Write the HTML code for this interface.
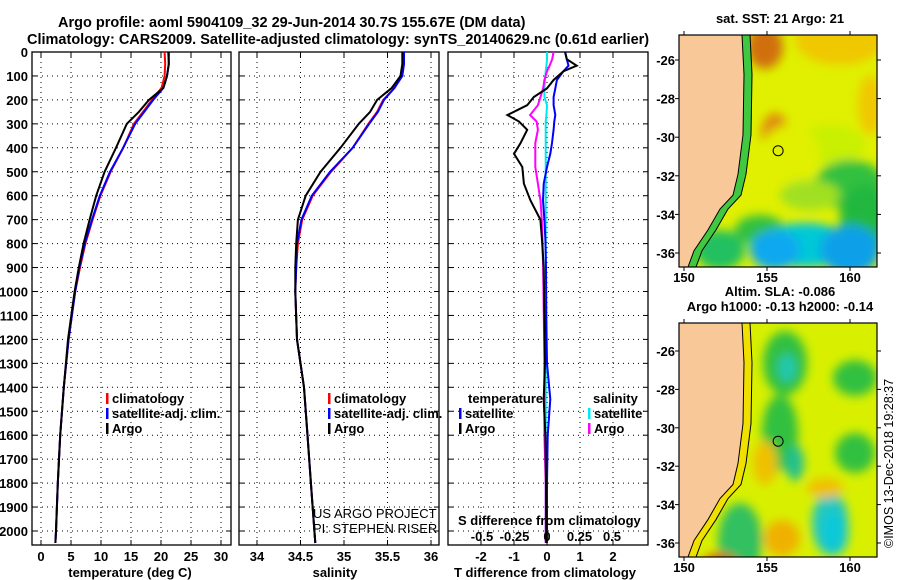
<!DOCTYPE html>
<html><head><meta charset="utf-8"><style>
html,body{margin:0;padding:0;background:#fff;}
svg{display:block;font-family:"Liberation Sans",sans-serif;}
.t{font-weight:bold;font-size:13px;}
</style></head><body>
<svg id="s" width="900" height="580" viewBox="0 0 900 580" xmlns="http://www.w3.org/2000/svg">
<text x="58" y="27" font-size="14.5" font-weight="bold">Argo profile: aoml 5904109_32 29-Jun-2014 30.7S 155.67E (DM data)</text>
<text x="27" y="44" font-size="14.5" font-weight="bold">Climatology: CARS2009. Satellite-adjusted climatology: synTS_20140629.nc (0.61d earlier)</text>
<g id="maps"></g>
<g id="plots"></g>
<text transform="translate(893,548) rotate(-90)" font-size="12.5">©IMOS 13-Dec-2018 19:28:37</text>
</svg>
<script>
// ---- data ----
const depth      = [0,50,100,150,200,250,300,400,500,600,700,800,900,1000,1200,1400,1600,1800,2000,2050];
const tempArgo   = [21.3,21.3,21.0,20.4,18.0,16.3,14.3,12.5,10.6,9.2,8.1,7.1,6.3,5.6,4.5,3.8,3.2,2.8,2.5,2.4];
const tempClim   = [20.6,20.7,20.6,20.1,18.5,17.0,15.5,13.7,11.6,9.9,8.6,7.4,6.5,5.7,4.6,3.8,3.2,2.8,2.5,2.4];
const tempSat    = [21.2,21.3,21.0,20.4,18.7,17.2,15.7,13.7,11.5,9.8,8.5,7.3,6.4,5.7,4.6,3.8,3.2,2.8,2.5,2.4];
const salArgo    = [35.67,35.67,35.65,35.55,35.38,35.30,35.17,34.96,34.73,34.56,34.47,34.45,34.44,34.44,34.46,34.54,34.58,34.62,34.66,34.67];
const salClim    = [35.68,35.68,35.66,35.58,35.45,35.38,35.28,35.10,34.85,34.64,34.52,34.47,34.45,34.44,34.46,34.54,34.58,34.62,34.66,34.67];
const salSat     = [35.69,35.69,35.67,35.58,35.46,35.39,35.29,35.10,34.84,34.63,34.51,34.46,34.45,34.44,34.46,34.54,34.58,34.62,34.66,34.67];
const dDepth     = [0,30,57,80,117,152,188,222,263,290,325,380,425,480,550,620,700,785,900,1100,1300,1450,1600,1800,2050];
const dTArgo     = [0.55,0.6,0.9,0.5,0.2,0.0,-0.4,-0.6,-1.2,-0.85,-0.6,-0.8,-1.0,-0.75,-0.7,-0.5,-0.2,-0.15,-0.1,-0.08,-0.06,-0.1,-0.05,-0.03,-0.02];
const dTSat      = [0.55,0.6,0.65,0.5,0.3,0.25,0.2,0.2,0.25,0.22,0.2,0.15,0.1,0.0,-0.1,-0.12,-0.08,-0.05,-0.03,-0.02,0.0,0.1,0.02,0.0,0.0];
const dSArgo     = [0.05,0.04,0.02,0.0,-0.02,-0.03,-0.05,-0.07,-0.13,-0.08,-0.07,-0.09,-0.09,-0.09,-0.07,-0.05,-0.04,-0.035,-0.03,-0.025,-0.02,-0.02,-0.02,-0.01,-0.01];
const dSSat      = [0.0,0.0,-0.005,-0.01,-0.015,-0.02,-0.02,0.0,-0.005,-0.01,-0.01,-0.01,-0.01,-0.01,-0.01,-0.01,-0.01,-0.01,-0.01,-0.01,-0.01,-0.01,-0.01,-0.01,-0.01];
const depthTicks = [0,100,200,300,400,500,600,700,800,900,1000,1100,1200,1300,1400,1500,1600,1700,1800,1900,2000];
const tempTicks  = [0,5,10,15,20,25,30];
const salTicks   = [34,34.5,35,35.5,36];
const dTTicks    = [-2,-1,0,1,2];
const dSTicks    = [-0.5,-0.25,0,0.25,0.5];
const latTicks   = [-26,-28,-30,-32,-34,-36];
const lonTicks   = [150,155,160];

const NS='http://www.w3.org/2000/svg';
function mk(tag,attrs,parent,txt){const e=document.createElementNS(NS,tag);for(const k in attrs)e.setAttribute(k,attrs[k]);if(txt!==undefined)e.textContent=txt;parent.appendChild(e);return e;}
const plots=document.getElementById('plots');
const yD=d=>52+d*0.2395;
const PT=52,PB=545;
const xT=v=>41+v*6, xS=v=>257+(v-34)*87, xDT=v=>547+v*33, xDS=v=>547+v*130;

function panel(name,L,R,xt,ticks,fmt,xf){
  const g=mk('g',{},plots);
  
  
  depthTicks.forEach(d=>{const l=mk('line',{x1:L,x2:R,y1:yD(d),y2:yD(d),stroke:'#000','stroke-dasharray':'1,4'},g);
    
    mk('line',{x1:L,x2:L+5,y1:yD(d),y2:yD(d),stroke:'#000'},g);mk('line',{x1:R-5,x2:R,y1:yD(d),y2:yD(d),stroke:'#000'},g);});
  ticks.forEach(v=>{const x=xf(v);const l=mk('line',{x1:x,x2:x,y1:PT,y2:PB,stroke:'#000','stroke-dasharray':'1,4'},g);
    
    mk('line',{x1:x,x2:x,y1:PT,y2:PT+5,stroke:'#000'},g);mk('line',{x1:x,x2:x,y1:PB-5,y2:PB,stroke:'#000'},g);
    if(xt){const t=mk('text',{x:x,y:561,'text-anchor':'middle',class:'t'},g,fmt(v));}});
  const r=mk('rect',{x:L,y:PT,width:R-L,height:PB-PT,fill:'none',stroke:'#000','stroke-width':1.3},g);
  
  return g;
}
function line(g,xs,ds,xf,col,name){
  const pts=xs.map((v,i)=>xf(v).toFixed(1)+','+yD(ds[i]).toFixed(1)).join(' ');
  const p=mk('polyline',{points:pts,fill:'none',stroke:col,'stroke-width':2},g);
  
}
function legend(g,x,y,items){items.forEach((it,i)=>{mk('rect',{x:x,y:y+i*15-10,width:2.5,height:11,fill:it[1]},g);
  const t=mk('text',{x:x+6,y:y+i*15,class:'t'},g,it[0]);});}

depthTicks.forEach(d=>{const t=mk('text',{x:28,y:yD(d)+5,'text-anchor':'end',class:'t'},plots,d);
  });

const g1=panel('temperature-panel',32,231,true,tempTicks,v=>v,xT);
line(g1,tempClim,depth,xT,'#f00','temp-climatology-line');
line(g1,tempSat,depth,xT,'#00f','temp-satellite-line');
line(g1,tempArgo,depth,xT,'#000','temp-argo-line');
legend(g1,106,403,[['climatology','#f00'],['satellite-adj. clim.','#00f'],['Argo','#000']]);
let t=mk('text',{x:130,y:577,'text-anchor':'middle',class:'t'},plots,'temperature (deg C)');

const g2=panel('salinity-panel',239,439,true,salTicks,v=>v,xS);
line(g2,salClim,depth,xS,'#f00','sal-climatology-line');
line(g2,salSat,depth,xS,'#00f','sal-satellite-line');
line(g2,salArgo,depth,xS,'#000','sal-argo-line');
legend(g2,328,403,[['climatology','#f00'],['satellite-adj. clim.','#00f'],['Argo','#000']]);
t=mk('text',{x:335,y:577,'text-anchor':'middle',class:'t'},plots,'salinity');
t=mk('text',{x:313,y:518,'font-size':13},plots,'US ARGO PROJECT');
t=mk('text',{x:313,y:533,'font-size':13},plots,'PI: STEPHEN RISER');

const g3=panel('difference-panel',448,648,true,dTTicks,v=>v,xDT);
line(g3,dSSat,dDepth,xDS,'#00e8f0','sal-diff-satellite-line');
line(g3,dSArgo,dDepth,xDS,'#f0f','sal-diff-argo-line');
line(g3,dTSat,dDepth,xDT,'#00f','temp-diff-satellite-line');
line(g3,dTArgo,dDepth,xDT,'#000','temp-diff-argo-line');
t=mk('text',{x:468,y:403,class:'t'},g3,'temperature');
legend(g3,459,418,[['satellite','#00f'],['Argo','#000']]);
t=mk('text',{x:593,y:403,class:'t'},g3,'salinity');
legend(g3,588,418,[['satellite','#00e8f0'],['Argo','#f0f']]);
t=mk('text',{x:458,y:525,class:'t'},g3,'S difference from climatology');
dSTicks.forEach(v=>{const e=mk('text',{x:xDS(v),y:541,'text-anchor':'middle',class:'t'},g3,v);});
t=mk('text',{x:545,y:577,'text-anchor':'middle',class:'t'},plots,'T difference from climatology');

// ---- maps ----
const maps=document.getElementById('maps');
function map(name,T,B,lat26,lat36,blobs,base,strip,title){
  const L=679,R=877;
  const g=mk('g',{},maps);
  
  const lonX=v=>684+(v-150)*16.6, latY=v=>lat26+(v+26)*(lat36-lat26)/-10;
  const id='c'+name;
  const cp=mk('clipPath',{id:id},g);mk('rect',{x:L,y:T,width:R-L,height:B-T},cp);
  const f=mk('filter',{id:'f'+name,x:'-50%',y:'-50%',width:'200%',height:'200%'},g);mk('feGaussianBlur',{stdDeviation:5},f);
  const inner=mk('g',{'clip-path':'url(#'+id+')'},g);
  mk('rect',{x:L,y:T,width:R-L,height:B-T,fill:base},inner);
  const bg=mk('g',{filter:'url(#f'+name+')'},inner);
  blobs.forEach(b=>mk('ellipse',{cx:b[0],cy:b[1]+T,rx:b[2],ry:b[3],fill:b[4]},bg));
  const H=B-T;
  const coast=[[742,T],[744,T+0.17*H],[743,T+0.43*H],[738,T+0.6*H],[733,T+0.69*H],[720,T+0.75*H],[708,T+0.84*H],[694,T+0.93*H],[688,B]];
  const off=coast.map(p=>[p[0]+8,p[1]]);
  mk('polygon',{points:coast.concat(off.slice().reverse()).map(p=>p.join(',')).join(' '),fill:strip},inner);
  mk('polyline',{points:off.map(p=>p.join(',')).join(' '),fill:'none',stroke:'#000','stroke-width':1},inner);
  const land=mk('polygon',{points:L+','+T+' '+coast.map(p=>p.join(',')).join(' ')+' '+L+','+B,fill:'#f8c898',stroke:'#000','stroke-width':1},inner);
  
  const m=mk('circle',{cx:lonX(155.67),cy:latY(-30.7),r:5,fill:'none',stroke:'#000','stroke-width':1},g);
  
  mk('rect',{x:L,y:T,width:R-L,height:B-T,fill:'none',stroke:'#000','stroke-width':1.2},g);
  latTicks.forEach(v=>{const y=latY(v);mk('line',{x1:L-4,x2:L,y1:y,y2:y,stroke:'#000'},g);mk('line',{x1:R,x2:R+4,y1:y,y2:y,stroke:'#000'},g);
    const e=mk('text',{x:675,y:y+5,'text-anchor':'end',class:'t'},g,v);});
  lonTicks.forEach(v=>{const x=lonX(v);mk('line',{x1:x,x2:x,y1:T-4,y2:T,stroke:'#000'},g);mk('line',{x1:x,x2:x,y1:B,y2:B+4,stroke:'#000'},g);
    const e=mk('text',{x:x,y:B+15,'text-anchor':'middle',class:'t'},g,v);});
  title.forEach((s,i)=>{const e=mk('text',{x:780,y:T-20+i*15-(title.length-1)*15+8,'text-anchor':'middle',class:'t'},g,s);});
}
map('sst-map',35,267,60,253,[
 [765,12,18,22,'#d07010'],[775,100,14,22,'#e08810'],[840,5,45,25,'#f0c800'],[870,70,12,30,'#f0c800'],
 [830,110,35,20,'#c8f000'],[790,120,30,30,'#e0f000'],
 [850,150,35,25,'#30c040'],[865,185,25,35,'#20b840'],[810,160,30,15,'#a0e020'],
 [760,195,25,15,'#30c040'],[805,210,45,22,'#00c8d8'],[775,215,25,20,'#10a8f0'],[850,215,30,25,'#10a0e8'],[720,215,25,20,'#20c060']
],'#e0f000','#40c840',['sat. SST: 21 Argo: 21']);
map('sla-map',323,557,351,543,[
 [785,40,22,32,'#30c040'],[787,45,9,14,'#20c8b0'],[855,55,22,18,'#30c040'],[780,110,18,38,'#30c040'],[795,140,9,18,'#20c090'],
 [855,130,20,20,'#30c040'],[830,200,18,32,'#20c8c0'],[835,210,13,22,'#10c8d8'],
 [738,215,15,28,'#10a0e8'],[740,218,22,38,'#30c060'],[782,215,12,12,'#d06000'],[782,215,18,18,'#f0b000'],
 [720,245,20,15,'#d86000'],[765,140,12,22,'#f0c000'],[825,165,18,10,'#f0c000'],[780,250,15,10,'#f0c000']
],'#d8f000','#f0e000',['Altim. SLA: -0.086','Argo h1000: -0.13 h2000: -0.14']);
</script>
</body></html>
